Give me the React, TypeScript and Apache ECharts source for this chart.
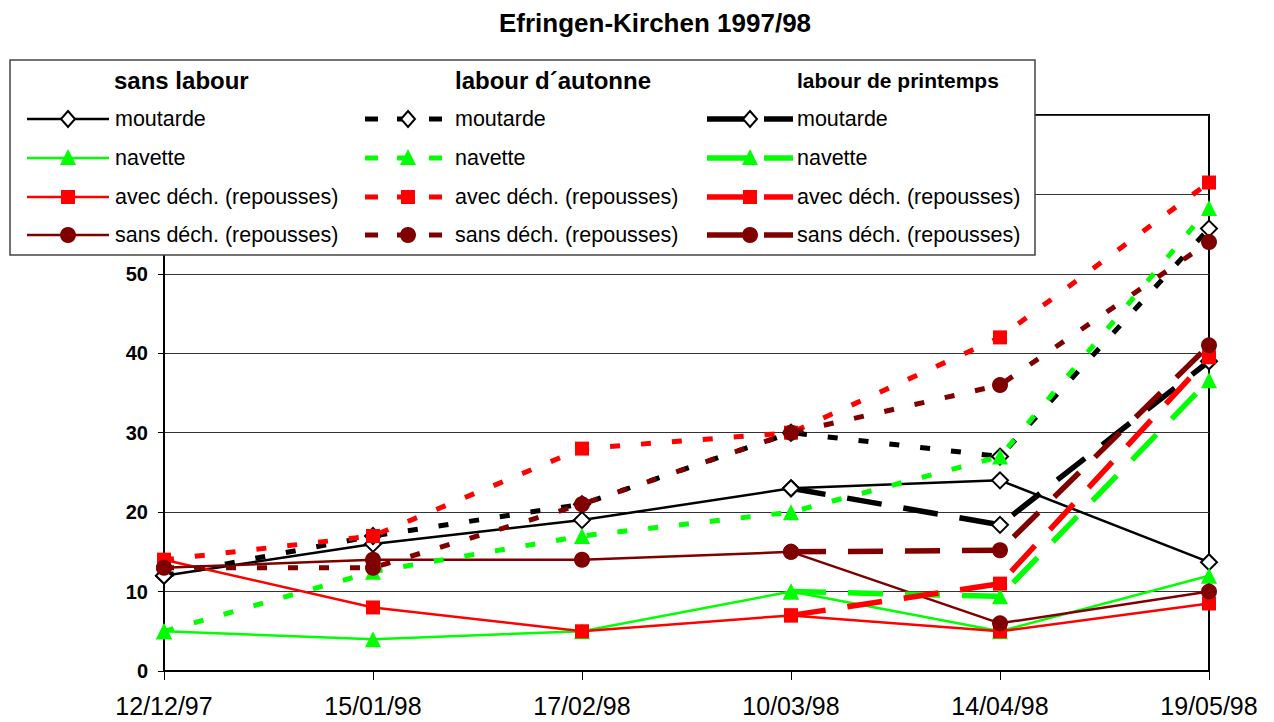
import React, { useEffect, useRef } from "react";
import * as echarts from "echarts";

const dates = ["12/12/97", "15/01/98", "17/02/98", "10/03/98", "14/04/98", "19/05/98"];

// sans labour
const sansMoutarde = [12, 16, 19, 23, 24, 13.7];
const sansNavette = [5, 4, 5, 10, 5, 12];
const sansAvec = [14, 8, 5, 7, 5, 8.5];
const sansSans = [13, 14, 14, 15, 6, 10];
// labour d'autonne
const autMoutarde = [12, 17, 21, 30, 27, 55.7];
const autNavette = [5, 12.5, 17, 20, 27, 58.3];
const autAvec = [14, 17, 28, 30, 42, 61.5];
const autSans = [13, 13, 21, 30, 36, 54];
// labour de printemps
const prMoutarde = [null, null, null, 23, 18.4, 39];
const prNavette = [null, null, null, 10, 9.4, 36.6];
const prAvec = [null, null, null, 7, 11, 39.5];
const prSans = [null, null, null, 15, 15.2, 41];

// y tick labels visible (60 and 70 are hidden behind the legend box)
const visibleYTicks = [0, 10, 20, 30, 40, 50];

const groupTitles = ["sans labour", "labour d\u00b4autonne", "labour de printemps"];
const itemNames = ["moutarde", "navette", "avec d\u00e9ch. (repousses)", "sans d\u00e9ch. (repousses)"];
const itemColors = ["#000000", "#00ff00", "#ff0000", "#800000"];
const itemSymbols = ["diamond", "triangle", "rect", "circle"];

const FONT = "Arial, 'Liberation Sans', sans-serif";

const groupStyles = [
  { width: 2.5, type: "solid" as any },
  { width: 5, type: [10, 21] as any },
  { width: 5.5, type: [35, 22] as any },
];

function makeSeries(name: string, data: any[], idx: number, group: number) {
  const color = itemColors[idx];
  const symbol = itemSymbols[idx];
  const isDiamond = symbol === "diamond";
  return {
    name,
    type: "line",
    data,
    symbol,
    symbolSize: symbol === "rect" ? 14 : 16,
    showSymbol: true,
    connectNulls: false,
    z: 2 + group,
    lineStyle: { color, width: groupStyles[group].width, type: groupStyles[group].type, cap: "butt" },
    itemStyle: isDiamond
      ? { color: "#ffffff", borderColor: "#000000", borderWidth: 2 }
      : { color, borderWidth: 0 },
    emphasis: { disabled: true },
  };
}

const LZ = 1000;

function legendMarker(idx: number, cx: number, cy: number): any {
  const color = itemColors[idx];
  const s = itemSymbols[idx];
  if (s === "diamond")
    return {
      type: "polygon",
      z: LZ + 2,
      shape: { points: [[cx, cy - 8], [cx + 7, cy], [cx, cy + 8], [cx - 7, cy]] },
      style: { fill: "#fff", stroke: "#000", lineWidth: 2 },
    };
  if (s === "triangle")
    return {
      type: "polygon",
      z: LZ + 2,
      shape: { points: [[cx, cy - 9], [cx + 8, cy + 7], [cx - 8, cy + 7]] },
      style: { fill: color },
    };
  if (s === "rect")
    return { type: "rect", z: LZ + 2, shape: { x: cx - 7, y: cy - 7, width: 14, height: 14 }, style: { fill: color } };
  return { type: "circle", z: LZ + 2, shape: { cx, cy, r: 8 }, style: { fill: color } };
}

function buildLegend(): any[] {
  const els: any[] = [];
  els.push({
    type: "rect",
    z: LZ,
    shape: { x: 10, y: 60, width: 1025, height: 195 },
    style: { fill: "#fff", stroke: "#444", lineWidth: 1.5 },
  });
  const headerX = [114, 455, 797];
  const headerSize = [24, 24, 21];
  groupTitles.forEach((t, g) => {
    els.push({
      type: "text",
      z: LZ + 3,
      x: headerX[g],
      y: 80,
      style: { text: t, fill: "#000", font: `bold ${headerSize[g]}px ${FONT}`, verticalAlign: "middle", align: "left" },
    });
  });
  const rowY = [119, 158, 197, 235];
  const textX = [115, 455, 797];
  itemNames.forEach((n, i) => {
    const y = rowY[i];
    const color = itemColors[i];
    els.push({ type: "line", z: LZ + 1, shape: { x1: 27, y1: y, x2: 109, y2: y }, style: { stroke: color, lineWidth: 2.5 } });
    els.push(legendMarker(i, 68, y));
    els.push({
      type: "line",
      z: LZ + 1,
      shape: { x1: 365, y1: y, x2: 442, y2: y },
      style: { stroke: color, lineWidth: 5, lineDash: [13, 19] },
    });
    els.push(legendMarker(i, 408, y));
    els.push({ type: "line", z: LZ + 1, shape: { x1: 707, y1: y, x2: 752, y2: y }, style: { stroke: color, lineWidth: 5.5 } });
    els.push({ type: "line", z: LZ + 1, shape: { x1: 764, y1: y, x2: 793, y2: y }, style: { stroke: color, lineWidth: 5.5 } });
    els.push(legendMarker(i, 750, y));
    textX.forEach((tx) => {
      els.push({
        type: "text",
        z: LZ + 3,
        x: tx,
        y,
        style: { text: n, fill: "#000", font: `21.5px ${FONT}`, verticalAlign: "middle", align: "left" },
      });
    });
  });
  return els;
}

export default function App() {
  const ref = useRef<HTMLDivElement>(null);
  useEffect(() => {
    if (!ref.current) return;
    const chart = echarts.init(ref.current, undefined, { renderer: "svg" });
    const series = [
      makeSeries("moutarde", sansMoutarde, 0, 0),
      makeSeries("navette", sansNavette, 1, 0),
      makeSeries("avec déch. (repousses)", sansAvec, 2, 0),
      makeSeries("sans déch. (repousses)", sansSans, 3, 0),
      makeSeries("moutarde (autonne)", autMoutarde, 0, 1),
      makeSeries("navette (autonne)", autNavette, 1, 1),
      makeSeries("avec déch. (autonne)", autAvec, 2, 1),
      makeSeries("sans déch. (autonne)", autSans, 3, 1),
      makeSeries("moutarde (printemps)", prMoutarde, 0, 2),
      makeSeries("navette (printemps)", prNavette, 1, 2),
      makeSeries("avec déch. (printemps)", prAvec, 2, 2),
      makeSeries("sans déch. (printemps)", prSans, 3, 2),
    ];
    chart.setOption({
      animation: false,
      textStyle: { fontFamily: FONT },
      title: {
        text: "Efringen-Kirchen 1997/98",
        left: 650,
        top: 5,
        textAlign: "center",
        textStyle: { fontSize: 26, fontWeight: "bold", color: "#000", fontFamily: FONT },
      },
      grid: {
        left: 164,
        right: 65,
        top: 115,
        bottom: 51,
        show: true,
        borderColor: "#000",
        borderWidth: 2,
        backgroundColor: "transparent",
      },
      xAxis: {
        type: "category",
        data: dates,
        boundaryGap: false,
        axisLine: { lineStyle: { color: "#000", width: 2 } },
        axisTick: { show: true, length: 9, lineStyle: { color: "#000", width: 1 } },
        axisLabel: { color: "#000", fontSize: 25, fontFamily: FONT, margin: 22, interval: 0 },
      },
      yAxis: {
        type: "value",
        min: 0,
        max: 70,
        interval: 10,
        axisLine: { show: true, lineStyle: { color: "#000", width: 2 } },
        axisTick: { show: true, length: 6, lineStyle: { color: "#000", width: 1 } },
        axisLabel: {
          color: "#000",
          fontSize: 20,
          fontWeight: "bold",
          fontFamily: FONT,
          margin: 16,
          formatter: (v: number) => (visibleYTicks.indexOf(v) >= 0 ? String(v) : ""),
        },
        splitLine: { show: true, lineStyle: { color: "#333", width: 1 } },
      },
      series,
      graphic: { elements: buildLegend() },
    });
    return () => chart.dispose();
  }, []);
  return (
    <div
      ref={ref}
      style={{ position: "fixed", left: 0, top: 0, width: 1274, height: 722, background: "#fff" }}
    />
  );
}
